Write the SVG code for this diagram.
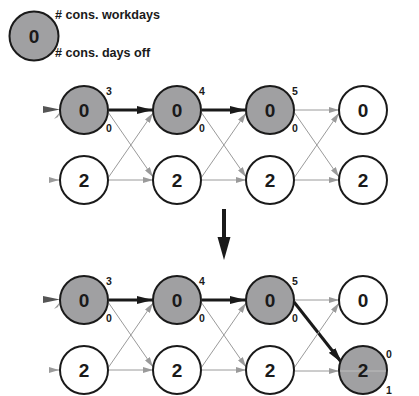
<svg xmlns="http://www.w3.org/2000/svg" width="419" height="396" viewBox="0 0 419 396">
<defs>
<style>
.n{stroke:#1a1a1a;stroke-width:2;fill:#fff}
.g{fill:#a0a0a2}
.t{font-family:"Liberation Sans",Arial,sans-serif;font-weight:bold;font-size:19px;fill:#1a1a1a;text-anchor:middle}
.s{font-family:"Liberation Sans",Arial,sans-serif;font-weight:bold;font-size:10.5px;fill:#1a1a1a}
.l{font-family:"Liberation Sans",Arial,sans-serif;font-weight:bold;font-size:12.6px;fill:#1a1a1a}
.th{stroke:#9a9a9a;stroke-width:1;fill:none;marker-end:url(#ag)}
.tk{stroke:#1a1a1a;stroke-width:3;fill:none;marker-end:url(#ab)}
</style>
<marker id="ag" viewBox="0 0 10 6" refX="10" refY="3" markerWidth="10" markerHeight="6" markerUnits="userSpaceOnUse" orient="auto">
<path d="M0,0 L10,3 L0,6 z" fill="#9a9a9a"/>
</marker>
<marker id="ab" viewBox="0 0 16 8" refX="16" refY="4" markerWidth="16" markerHeight="8" markerUnits="userSpaceOnUse" orient="auto">
<path d="M0,0 L16,4 L0,8 z" fill="#1a1a1a"/>
</marker>
</defs>
<rect width="419" height="396" fill="#fff"/>

<g id="connectors">
<path d="M43,106 L60,109.5 L43,113 z" fill="#555"/>
<path d="M54,119 L60,112 L58,117 z" fill="#9a9a9a"/>
<line x1="51" y1="180" x2="59" y2="180" class="th"/>
<line x1="109" y1="110" x2="153" y2="110" class="tk"/>
<line x1="108" y1="112" x2="153" y2="177" class="th"/>
<line x1="108" y1="178" x2="153" y2="113" class="th"/>
<line x1="109" y1="180" x2="153" y2="180" class="th"/>
<line x1="202" y1="110" x2="246" y2="110" class="tk"/>
<line x1="201" y1="112" x2="246" y2="177" class="th"/>
<line x1="201" y1="178" x2="246" y2="113" class="th"/>
<line x1="202" y1="180" x2="246" y2="180" class="th"/>
<line x1="295" y1="110" x2="339" y2="110" class="th"/>
<line x1="294" y1="112" x2="339" y2="177" class="th"/>
<line x1="294" y1="178" x2="339" y2="113" class="th"/>
<line x1="295" y1="180" x2="339" y2="180" class="th"/>

<line x1="224" y1="209" x2="224" y2="240" stroke="#1a1a1a" stroke-width="4"/>
<path d="M217.5,237 L230.5,237 L224,260 z" fill="#1a1a1a"/>

<path d="M43,296 L60,299.5 L43,303 z" fill="#555"/>
<path d="M54,309 L60,302 L58,307 z" fill="#9a9a9a"/>
<line x1="51" y1="370" x2="59" y2="370" class="th"/>
<line x1="109" y1="300" x2="153" y2="300" class="tk"/>
<line x1="108" y1="302" x2="153" y2="367" class="th"/>
<line x1="108" y1="368" x2="153" y2="303" class="th"/>
<line x1="109" y1="370" x2="153" y2="370" class="th"/>
<line x1="202" y1="300" x2="246" y2="300" class="tk"/>
<line x1="201" y1="302" x2="246" y2="367" class="th"/>
<line x1="201" y1="368" x2="246" y2="303" class="th"/>
<line x1="202" y1="370" x2="246" y2="370" class="th"/>
<line x1="295" y1="300" x2="339" y2="300" class="th"/>
<line x1="294" y1="302" x2="342" y2="363" class="tk"/>
<line x1="294" y1="368" x2="339" y2="303" class="th"/>
<line x1="295" y1="371" x2="339" y2="371" class="th"/>
</g>

<g id="legend">
<circle cx="34" cy="36" r="24.5" class="n g"/>
<text x="34" y="43" class="t">0</text>
<text x="55" y="19" class="l"># cons. workdays</text>
<text x="55" y="57" class="l"># cons. days off</text>
</g>

<g id="n-a1"><circle cx="84" cy="110" r="24" class="n g"/><text x="84" y="117" class="t">0</text><text x="106" y="95" class="s">3</text><text x="106" y="132" class="s">0</text></g>
<g id="n-a2"><circle cx="177" cy="110" r="24" class="n g"/><text x="177" y="117" class="t">0</text><text x="199" y="95" class="s">4</text><text x="199" y="132" class="s">0</text></g>
<g id="n-a3"><circle cx="270" cy="110" r="24" class="n g"/><text x="270" y="117" class="t">0</text><text x="292" y="95" class="s">5</text><text x="292" y="132" class="s">0</text></g>
<g id="n-a4"><circle cx="363" cy="110" r="24" class="n"/><text x="363" y="117" class="t">0</text></g>
<g id="n-b1"><circle cx="84" cy="180" r="24" class="n"/><text x="84" y="187" class="t">2</text></g>
<g id="n-b2"><circle cx="177" cy="180" r="24" class="n"/><text x="177" y="187" class="t">2</text></g>
<g id="n-b3"><circle cx="270" cy="180" r="24" class="n"/><text x="270" y="187" class="t">2</text></g>
<g id="n-b4"><circle cx="363" cy="180" r="24" class="n"/><text x="363" y="187" class="t">2</text></g>

<g id="n-c1"><circle cx="84" cy="300" r="24" class="n g"/><text x="84" y="307" class="t">0</text><text x="106" y="285" class="s">3</text><text x="106" y="322" class="s">0</text></g>
<g id="n-c2"><circle cx="177" cy="300" r="24" class="n g"/><text x="177" y="307" class="t">0</text><text x="199" y="285" class="s">4</text><text x="199" y="322" class="s">0</text></g>
<g id="n-c3"><circle cx="270" cy="300" r="24" class="n g"/><text x="270" y="307" class="t">0</text><text x="292" y="285" class="s">5</text><text x="292" y="322" class="s">0</text></g>
<g id="n-c4"><circle cx="363" cy="300" r="24" class="n"/><text x="363" y="307" class="t">0</text></g>
<g id="n-d1"><circle cx="84" cy="370" r="24" class="n"/><text x="84" y="377" class="t">2</text></g>
<g id="n-d2"><circle cx="177" cy="370" r="24" class="n"/><text x="177" y="377" class="t">2</text></g>
<g id="n-d3"><circle cx="270" cy="370" r="24" class="n"/><text x="270" y="377" class="t">2</text></g>
<g id="n-d4"><circle cx="363" cy="370" r="24" class="n g"/><line x1="340" y1="371" x2="386" y2="371" stroke="#bdbdbd" stroke-width="1"/><text x="363" y="377" class="t">2</text><text x="386" y="358" class="s">0</text><text x="386" y="394" class="s">1</text></g>
</svg>
